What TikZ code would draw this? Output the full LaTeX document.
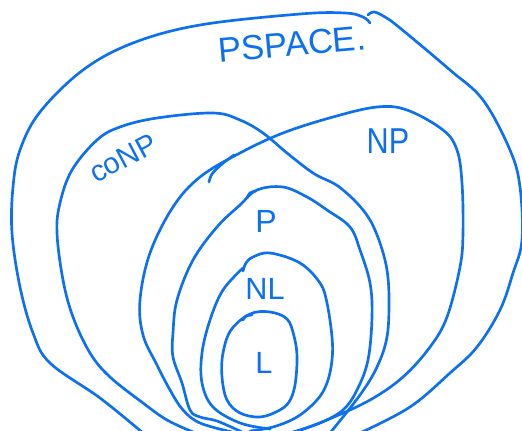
\documentclass[tikz,border=0pt]{standalone}
\usepackage{fontspec}
\setmainfont{Liberation Sans}
\definecolor{ink}{RGB}{12,112,240}
\begin{document}
\begin{tikzpicture}[x=0.75pt,y=-0.75pt,
  stroke/.style={draw=ink,line width=2pt,line cap=round,line join=round},
  lbl/.style={text=ink,inner sep=0pt}]
\clip (0,0) rectangle (522,431);
% PSPACE
\draw[stroke] plot[smooth,tension=0.6] coordinates {(143,433) (100,398) (50,363) (33,333) (20,287) (12,233) (13,187) (20,150) (40,112) (83,70) (133,43) (200,25) (300,14) (345,13) (363,17) (370,23)};
\draw[stroke] plot[smooth,tension=0.6] coordinates {(368,15) (374,12) (385,17) (400,28) (450,70) (483,100) (510,150) (520,187) (522,240) (513,273) (500,310) (477,347) (450,373) (410,407) (360,433)};
% coNP
\draw[stroke] plot[smooth,tension=0.6] coordinates {(193,432) (167,420) (143,403) (110,377) (90,353) (73,317) (63,280) (57,233) (60,203) (72,170) (97,140) (120,127) (157,118) (213,113) (240,120) (263,133) (287,153) (313,173) (333,183) (343,190) (357,203) (370,220) (380,243) (387,270) (389,300) (387,337) (377,367) (360,395) (330,433)};
% NP
\draw[stroke] plot[smooth,tension=0.6] coordinates {(232,432) (200,423) (183,410) (170,390) (157,365) (143,335) (140,300) (150,253) (173,207) (200,177) (240,153) (283,133) (333,117) (377,107) (407,110) (443,130) (457,150) (462,183) (463,233) (460,267) (447,317) (430,347) (403,377) (370,400) (327,420) (295,432)};
\draw[stroke] plot[smooth] coordinates {(209,182) (212,174) (222,164) (234,155)};
% P
\draw[stroke] plot[smooth,tension=0.6] coordinates {(242,432) (217,421) (200,417) (190,410) (182,383) (173,357) (173,333) (177,300) (193,260) (217,227) (240,205) (257,190) (283,187) (307,197) (327,210) (350,227) (360,250) (370,283) (372,317) (368,360) (357,390) (343,410) (320,423) (293,432)};
\draw[stroke] plot[smooth] coordinates {(247,198) (250,193) (256,191)};
% NL
\draw[stroke] plot[smooth,tension=0.6] coordinates {(270,429) (240,423) (213,407) (202,383) (202,353) (210,320) (223,290) (243,268)};
\draw[stroke] plot[smooth,tension=0.6] coordinates {(243,271) (246,263) (253,257) (270,253) (300,263) (320,283) (327,303) (332,337) (332,360) (327,383) (317,400) (297,417) (273,427) (250,431)};
% L
\draw[stroke] plot[smooth cycle,tension=0.6] coordinates {(250,314) (270,312) (287,319) (294,336) (297,357) (295,385) (289,402) (278,411) (260,417) (240,413) (227,400) (222,377) (223,353) (231,330)};
\draw[stroke] plot[smooth] coordinates {(243,320) (246,316) (252,315)};
% labels
\node[lbl,font=\fontsize{26}{26}\selectfont,rotate=5] (pspace) at (292,44) {PSPACE.};
\node[lbl,font=\fontsize{22}{22}\selectfont,rotate=28] (conp) at (123,158) {coNP};
\node[lbl,font=\fontsize{27}{27}\selectfont,xscale=0.85] (np) at (388,141) {NP};
\node[lbl,font=\fontsize{24}{24}\selectfont] (p) at (266,221) {P};
\node[lbl,font=\fontsize{23}{23}\selectfont] (nl) at (265,289) {NL};
\node[lbl,font=\fontsize{23}{23}\selectfont] (l) at (264,363) {L};
\end{tikzpicture}
\end{document}
